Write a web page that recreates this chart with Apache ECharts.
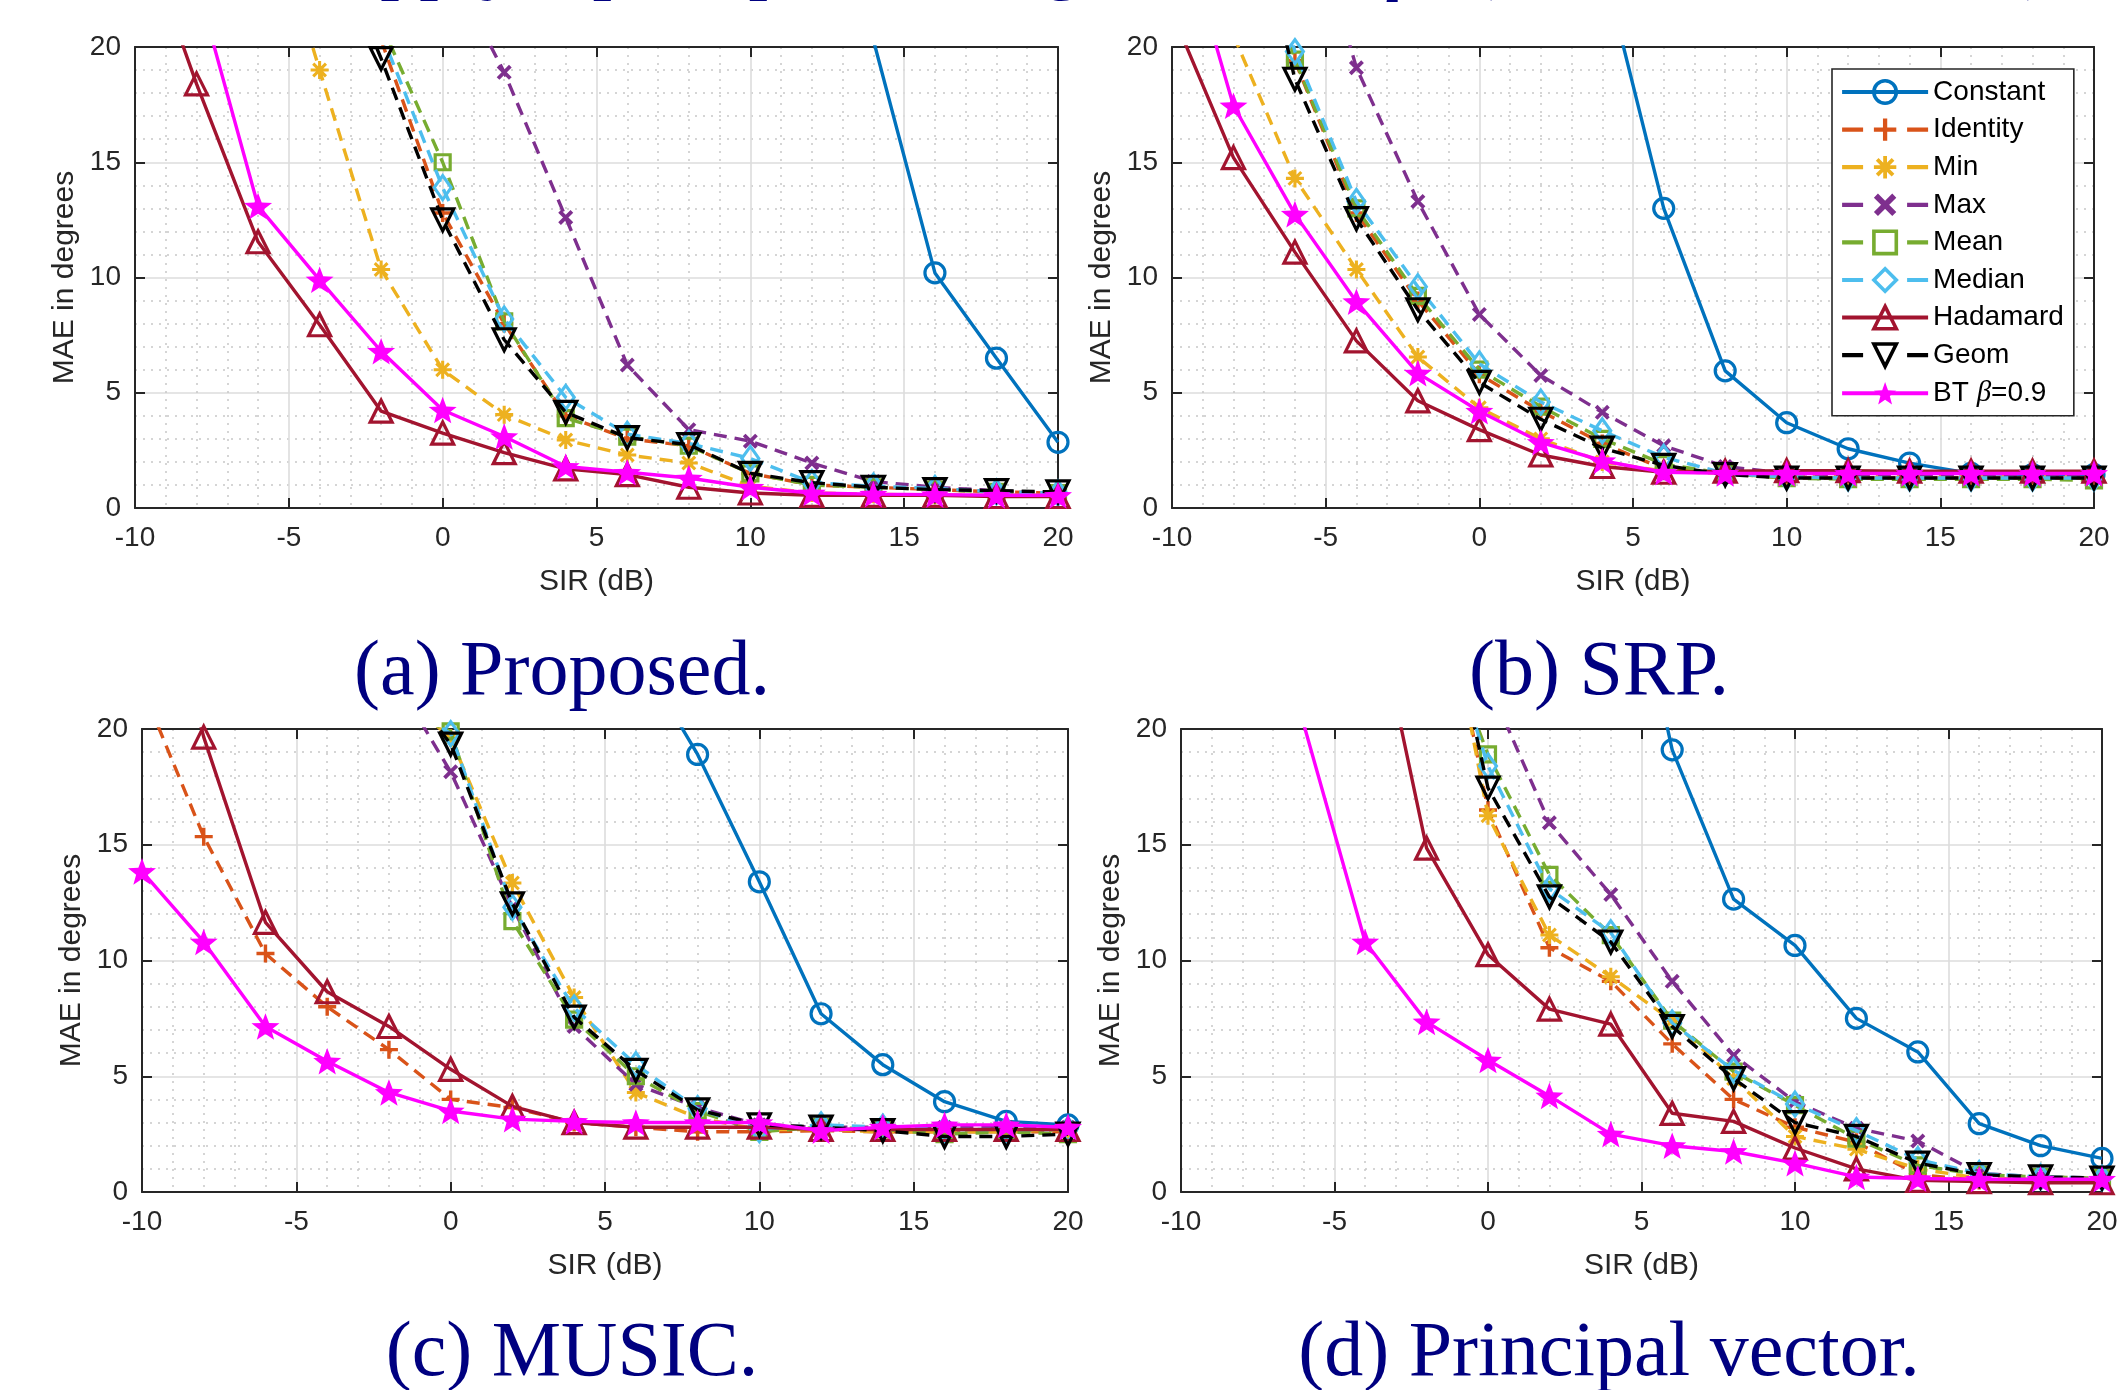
<!DOCTYPE html>
<html><head><meta charset="utf-8">
<script src="https://cdn.jsdelivr.net/npm/echarts@6/dist/echarts.min.js"></script>
<style>html,body{margin:0;padding:0;background:#fff}#c{width:2122px;height:1390px}</style>
</head><body><div id="c"></div>
<script>
// ---------- data ----------
const sir = [-10,-8,-6,-4,-2,0,2,4,6,8,10,12,14,16,18,20];
const xTicks = [-10,-5,0,5,10,15,20];
const yTicks = [0,5,10,15,20];
const methodNames = ['Constant','Identity','Min','Max','Mean','Median','Hadamard','Geom','BT β=0.9'];
const captions = ['(a) Proposed.','(b) SRP.','(c) MUSIC.','(d) Principal vector.'];
const n = null;

// (a) Proposed
const propConstant = [n,n,n,n,n,n,n,n,n,n,n,n,20.3,10.2,6.5,2.85];
const propIdentity = [n,n,n,n,20.3,12.8,8.0,4.0,3.0,2.7,1.5,1.0,0.9,0.8,0.7,0.65];
const propMin      = [n,n,27.8,19.0,10.35,6.0,4.05,2.95,2.3,1.95,0.95,0.65,0.6,0.55,0.55,0.55];
const propMax      = [n,n,n,n,n,24.1,18.9,12.6,6.2,3.4,2.9,1.95,1.15,0.9,0.75,0.65];
const propMean     = [n,n,n,n,21.0,15.0,8.1,3.9,3.1,2.7,1.5,1.0,0.9,0.8,0.7,0.65];
const propMedian   = [n,n,n,n,20.6,13.9,8.2,4.8,3.2,2.8,2.15,1.1,0.95,0.85,0.7,0.65];
const propHadamard = [25.9,18.4,11.55,7.95,4.2,3.25,2.4,1.7,1.45,0.9,0.65,0.55,0.55,0.55,0.5,0.5];
const propGeom     = [n,n,n,25.8,19.5,12.5,7.3,4.15,3.05,2.75,1.5,1.1,0.9,0.8,0.75,0.7];
const propBT       = [n,22.8,13.1,9.9,6.8,4.25,3.1,1.8,1.55,1.3,0.9,0.65,0.6,0.58,0.55,0.55];

// (b) SRP
const srpConstant = [n,n,n,n,n,n,n,23.7,13.0,5.95,3.7,2.57,1.95,1.5,1.45,1.45];
const srpIdentity = [n,30,19.4,12.8,9.0,5.8,4.2,2.8,1.7,1.5,1.3,1.3,1.3,1.3,1.3,1.3];
const srpMin      = [n,20.5,14.3,10.35,6.55,4.35,3.0,2.0,1.6,1.5,1.4,1.4,1.4,1.4,1.4,1.4];
const srpMax      = [n,n,28.4,19.1,13.3,8.4,5.75,4.15,2.7,1.8,1.5,1.45,1.45,1.45,1.4,1.4];
const srpMean     = [n,29,19.45,13.0,9.2,6.0,4.4,3.0,1.9,1.5,1.3,1.25,1.25,1.25,1.25,1.2];
const srpMedian   = [n,30,19.8,13.3,9.6,6.25,4.6,3.35,2.2,1.5,1.35,1.3,1.3,1.3,1.3,1.3];
const srpHadamard = [21.5,15.2,11.1,7.25,4.65,3.4,2.3,1.8,1.55,1.6,1.62,1.62,1.6,1.6,1.6,1.6];
const srpGeom     = [n,30,18.6,12.55,8.6,5.45,3.85,2.6,1.85,1.45,1.3,1.3,1.3,1.3,1.3,1.3];
const srpBT       = [26.7,17.45,12.75,8.95,5.85,4.2,2.85,2.05,1.55,1.5,1.5,1.5,1.5,1.5,1.5,1.5];

// (c) MUSIC
const musicConstant = [n,n,n,n,n,n,n,n,23.4,18.9,13.4,7.7,5.5,3.9,3.05,2.9];
const musicIdentity = [21.8,15.35,10.3,8.0,6.15,4.0,3.65,3.0,2.8,2.6,2.6,2.65,2.6,2.6,2.6,2.6];
const musicMin      = [n,n,n,n,22,19.6,13.35,8.4,4.3,3.2,2.7,2.7,2.6,2.6,2.6,2.7];
const musicMax      = [n,n,n,n,22.6,18.15,12.3,7.15,4.65,3.65,2.9,2.8,2.8,2.8,2.8,2.8];
const musicMean     = [n,n,n,n,21,19.9,11.7,7.45,5.0,3.5,2.6,2.8,2.7,2.5,2.6,2.5];
const musicMedian   = [n,n,n,n,21.5,19.8,12.3,7.95,5.5,3.6,2.7,2.9,2.8,2.7,2.7,2.7];
const musicHadamard = [30,19.65,11.65,8.65,7.15,5.3,3.7,3.0,2.8,2.8,2.8,2.7,2.7,2.7,2.7,2.7];
const musicGeom     = [n,n,n,n,22.8,19.35,12.45,7.55,5.25,3.55,2.9,2.8,2.65,2.4,2.4,2.5];
const musicBT       = [13.85,10.8,7.15,5.65,4.3,3.5,3.15,3.05,3.0,3.0,3.0,2.65,2.8,2.9,2.9,2.8];

// (d) Principal vector
const pvConstant = [n,n,n,n,n,n,n,31.2,19.1,12.65,10.65,7.5,6.05,2.95,2.0,1.45];
const pvIdentity = [n,n,n,n,30,16.5,10.55,9.1,6.4,4.0,2.8,2.15,0.75,0.5,0.5,0.5];
const pvMin      = [n,n,n,n,30.1,16.25,11.1,9.3,7.4,4.9,2.4,1.85,1.0,0.6,0.55,0.5];
const pvMax      = [n,n,n,n,n,22.0,15.95,12.85,9.1,5.9,3.9,2.75,2.2,0.8,0.65,0.6];
const pvMean     = [n,n,n,n,25.9,18.9,13.7,11.1,7.4,5.2,3.75,2.3,1.15,0.75,0.65,0.6];
const pvMedian   = [n,n,n,n,27,18.4,13.1,11.2,7.3,5.25,3.8,2.65,1.4,0.8,0.65,0.6];
const pvHadamard = [n,n,n,27.4,14.85,10.25,7.9,7.25,3.4,3.05,1.9,1.0,0.5,0.45,0.4,0.4];
const pvGeom     = [n,n,n,n,29.4,17.45,12.75,10.8,7.15,4.9,3.0,2.4,1.25,0.75,0.65,0.6];
const pvBT       = [n,n,20.2,10.8,7.35,5.7,4.15,2.5,2.0,1.75,1.25,0.65,0.58,0.55,0.55,0.55];

const panelData = [
  [propConstant,propIdentity,propMin,propMax,propMean,propMedian,propHadamard,propGeom,propBT],
  [srpConstant,srpIdentity,srpMin,srpMax,srpMean,srpMedian,srpHadamard,srpGeom,srpBT],
  [musicConstant,musicIdentity,musicMin,musicMax,musicMean,musicMedian,musicHadamard,musicGeom,musicBT],
  [pvConstant,pvIdentity,pvMin,pvMax,pvMean,pvMedian,pvHadamard,pvGeom,pvBT]
];

// ---------- styles ----------
function barsPath(angles, halfLen, halfW) {
  let s = '';
  for (const a of angles) {
    const t = a * Math.PI / 180, dx = Math.cos(t), dy = Math.sin(t), nx = -dy, ny = dx;
    const pts = [
      [5 + halfLen*dx + halfW*nx, 5 + halfLen*dy + halfW*ny],
      [5 + halfLen*dx - halfW*nx, 5 + halfLen*dy - halfW*ny],
      [5 - halfLen*dx - halfW*nx, 5 - halfLen*dy - halfW*ny],
      [5 - halfLen*dx + halfW*nx, 5 - halfLen*dy + halfW*ny]
    ];
    s += 'M' + pts.map(p => p[0].toFixed(3) + ',' + p[1].toFixed(3)).join('L') + 'Z';
  }
  return 'path://' + s;
}
function starPath() {
  const pts = [];
  for (let i = 0; i < 10; i++) {
    const r = i % 2 === 0 ? 5 : 2.1;
    const t = -Math.PI/2 + i * Math.PI / 5;
    pts.push([5 + r*Math.cos(t), 5 + r*Math.sin(t)]);
  }
  return 'path://M' + pts.map(p => p[0].toFixed(3) + ',' + p[1].toFixed(3)).join('L') + 'Z';
}
const PLUS = barsPath([0,90], 5, 0.95);
const AST = barsPath([0,45,90,135], 5, 0.85);
const XM = barsPath([45,135], 5, 1.1);
const STAR = starPath();

const colors = ['#0072BD','#D95319','#EDB120','#7E2F8E','#77AC30','#4DBEEE','#A2142F','#000000','#FF00FF'];
const dashes = ['solid',[13,8],[13,8],[13,8],[13,8],[13,8],'solid',[13,8],'solid'];
const symbols = ['circle',PLUS,AST,XM,'rect','diamond','triangle','triangle',STAR];
const symSizes = [20,18,18,15,15,[17,24],22,22,28];
const symRot = [0,0,0,0,0,0,0,180,0];
const filled = [false,true,true,true,false,false,false,false,true];

const grids = [
  {left:135, top:47, width:923, height:461},
  {left:1172, top:47, width:922, height:461},
  {left:142, top:729, width:926, height:463},
  {left:1181, top:729, width:921, height:463}
];

const axisColor = '#262626';
const xAxes = [], yAxes = [];
grids.forEach((g, i) => {
  xAxes.push({
    gridIndex: i, type: 'value', min: xTicks[0], max: xTicks[xTicks.length-1], interval: 5,
    name: 'SIR (dB)', nameLocation: 'middle', nameGap: 59,
    nameTextStyle: {fontFamily: 'Liberation Sans', fontSize: 30, color: axisColor},
    axisLine: {show: true, onZero: false, lineStyle: {color: axisColor, width: 2}},
    axisTick: {show: true, inside: true, length: 10, lineStyle: {color: axisColor, width: 2}},
    axisLabel: {fontFamily: 'Liberation Sans', fontSize: 28, color: axisColor, margin: 16},
    splitLine: {show: true, lineStyle: {color: '#dcdcdc', width: 1.6}},
    minorTick: {show: false, splitNumber: 5},
    minorSplitLine: {show: true, lineStyle: {color: '#c8c8c8', width: 1.5, type: [2,6]}}
  });
  xAxes.push({
    gridIndex: i, type: 'value', position: 'top', min: -10, max: 20, interval: 5,
    axisLine: {show: true, onZero: false, lineStyle: {color: axisColor, width: 2}},
    axisTick: {show: true, inside: true, length: 10, lineStyle: {color: axisColor, width: 2}},
    axisLabel: {show: false}, splitLine: {show: false}
  });
  yAxes.push({
    gridIndex: i, type: 'value', min: yTicks[0], max: yTicks[yTicks.length-1], interval: 5,
    name: 'MAE in degrees', nameLocation: 'middle', nameGap: 55,
    nameTextStyle: {fontFamily: 'Liberation Sans', fontSize: 30, color: axisColor},
    axisLine: {show: true, onZero: false, lineStyle: {color: axisColor, width: 2}},
    axisTick: {show: true, inside: true, length: 10, lineStyle: {color: axisColor, width: 2}},
    axisLabel: {fontFamily: 'Liberation Sans', fontSize: 28, color: axisColor, margin: 14},
    splitLine: {show: true, lineStyle: {color: '#dcdcdc', width: 1.6}},
    minorTick: {show: false, splitNumber: 5},
    minorSplitLine: {show: true, lineStyle: {color: '#c8c8c8', width: 1.5, type: [2,6]}}
  });
  yAxes.push({
    gridIndex: i, type: 'value', position: 'right', min: 0, max: 20, interval: 5,
    axisLine: {show: true, onZero: false, lineStyle: {color: axisColor, width: 2}},
    axisTick: {show: true, inside: true, length: 10, lineStyle: {color: axisColor, width: 2}},
    axisLabel: {show: false}, splitLine: {show: false}
  });
});

const LW = 3.4;
const series = [];
panelData.forEach((arrs, p) => {
  arrs.forEach((arr, k) => {
    const c = colors[k];
    series.push({
      name: methodNames[k], type: 'line', xAxisIndex: p*2, yAxisIndex: p*2,
      data: sir.map((x, i) => [x, arr[i]]),
      clip: true, connectNulls: false, smooth: false,
      color: c,
      symbol: symbols[k], symbolSize: symSizes[k], symbolRotate: symRot[k], symbolKeepAspect: true,
      showAllSymbol: true,
      lineStyle: {color: c, width: LW, type: dashes[k]},
      itemStyle: filled[k] ? {color: c, borderWidth: 0} : {color: 'rgba(255,255,255,0)', borderColor: c, borderWidth: 3.2},
      emphasis: {disabled: true},
      z: 2 + k * 0.01
    });
  });
});

// legend entries: two short dashes either side of the marker for dashed styles
const legendData = methodNames.map((nm, k) => {
  const item = {name: nm};
  if (dashes[k] !== 'solid') item.lineStyle = {type: [21, 44], width: 4.2, color: colors[k]};
  else item.lineStyle = {type: 'solid', width: 4, color: colors[k]};
  if (!filled[k]) item.itemStyle = {color: 'rgba(255,255,255,0)', borderColor: colors[k], borderWidth: 3.6};
  return item;
});

// ---------- graphics: captions + cut title ----------
const navy = '#000080';
const graphics = [];
const capPos = [[562, 674], [1599, 674], [572, 1355], [1609, 1355]];
captions.forEach((t, i) => {
  graphics.push({type: 'text', x: capPos[i][0], y: capPos[i][1], z: 10,
    style: {text: t, font: '78px "Liberation Serif"', fill: navy, textAlign: 'center', textVerticalAlign: 'middle'}});
});
// top line (cut off at the image border)
const topPieces = [
  ['Apply a post-processing', 324, 0, 78, 'normal'],
  ['w', 1160, 0, 78, 'italic'],
  ['m', 1211, 16, 55, 'italic'],
  ['= ', 1262, 0, 78, 'normal'],
  ['q', 1365, 0, 78, 'italic'],
  ['m', 1403, 16, 55, 'italic'],
  ['(x', 1468, 0, 78, 'normal'],
  ['1', 1556, 16, 55, 'normal'],
  [', x', 1584, 0, 78, 'normal'],
  ['2', 1688, 16, 55, 'normal'],
  [', ..., x', 1718, 0, 78, 'normal'],
  ['M', 1975, 16, 55, 'italic'],
  [')', 2025, 0, 78, 'normal']
];
topPieces.forEach(pc => {
  graphics.push({type: 'text', x: pc[1], y: -36 + pc[2], z: 10,
    style: {text: pc[0], font: pc[4] + ' ' + pc[3] + 'px "Liberation Serif"', fill: navy, textAlign: 'left', textVerticalAlign: 'middle'}});
});

const chart = echarts.init(document.getElementById('c'), null, {renderer: 'canvas'});
chart.setOption({
  animation: false,
  backgroundColor: '#ffffff',
  grid: grids.map(g => Object.assign({containLabel: false}, g)),
  xAxis: xAxes,
  yAxis: yAxes,
  legend: {
    show: true, orient: 'vertical', left: 1832, top: 69,
    data: legendData,
    itemWidth: 86, itemHeight: 28, itemGap: 9.6,
    padding: [9, 10, 8, 8],
    backgroundColor: '#ffffff', borderColor: axisColor, borderWidth: 1.6, borderRadius: 0,
    selectedMode: false,
    textStyle: {fontFamily: 'Liberation Sans', fontSize: 28, color: '#000',
      rich: {n: {fontFamily: 'Liberation Sans', fontSize: 28, color: '#000'},
             b: {fontFamily: 'Liberation Serif', fontStyle: 'italic', fontSize: 29, color: '#000'}}},
    formatter: name => name === 'BT β=0.9' ? '{n|BT }{b|β}{n|=0.9}' : name,
    z: 20
  },
  series: series,
  graphic: graphics
});
</script>
</body></html>
